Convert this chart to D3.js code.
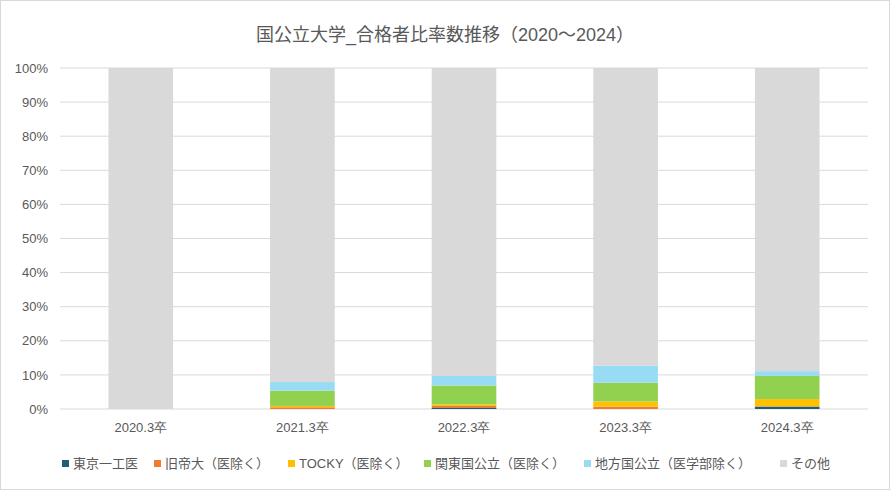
<!DOCTYPE html>
<html><head><meta charset="utf-8">
<script src="https://cdn.jsdelivr.net/npm/d3@7"></script>
<style>body{margin:0;background:#fff;font-family:"Liberation Sans","Noto Sans CJK JP",sans-serif}</style>
</head><body><svg id="chart" width="890" height="490"></svg>
<script>
const categories = ['2020.3卒', '2021.3卒', '2022.3卒', '2023.3卒', '2024.3卒']
const seriesNames = ['東京一工医', '旧帝大（医除く）', 'TOCKY（医除く）', '関東国公立（医除く）', '地方国公立（医学部除く）', 'その他']
const colors = ['#1f5f73', '#ed7d31', '#ffc000', '#92d050', '#97dbf5', '#d9d9d9']
const tokyo = [0, 0, 0.3, 0, 0.7]
const kyutei = [0, 0.5, 0.6, 0.7, 0.1]
const tocky = [0, 0.4, 0.4, 1.5, 2.1]
const kanto = [0, 4.5, 5.6, 5.5, 6.8]
const chiho = [0, 2.5, 2.8, 5.0, 1.4]
const yTicks = [0, 10, 20, 30, 40, 50, 60, 70, 80, 90, 100]

const cols = [tokyo, kyutei, tocky, kanto, chiho]
const rows = categories.map((c, i) => {
  const r = { cat: c }
  let s = 0
  cols.forEach((a, k) => { r[seriesNames[k]] = a[i]; s += a[i] })
  r[seriesNames[5]] = 100 - s
  return r
})
const stack = d3.stack().keys(seriesNames)(rows)

const margin = { top: 68, right: 22, bottom: 81, left: 60 }
const width = 890 - margin.left - margin.right
const height = 490 - margin.top - margin.bottom
const svg = d3.select('#chart')
svg.append('rect').attr('x', 0.5).attr('y', 0.5).attr('width', 889).attr('height', 489).attr('fill', '#fff').attr('stroke', '#d9d9d9')
svg.append('text').attr('x', 445).attr('y', 41).attr('text-anchor', 'middle').attr('font-size', 18).attr('fill', '#595959')
  .text('国公立大学_合格者比率数推移（2020～2024）')

const g = svg.append('g').attr('transform', `translate(${margin.left},${margin.top})`)
const x = d3.scaleBand().domain(categories).range([0, width]).paddingInner(0.6).paddingOuter(0.3)
const y = d3.scaleLinear().domain([0, 100]).range([height, 0])

g.selectAll('.grid').data(yTicks).join('line')
  .attr('x1', 0).attr('x2', width).attr('y1', d => y(d)).attr('y2', d => y(d))
  .attr('stroke', '#d9d9d9')

stack.forEach((s, k) => {
  g.selectAll('.s' + k).data(s).join('rect')
    .attr('x', d => x(d.data.cat)).attr('width', x.bandwidth())
    .attr('y', d => y(d[1])).attr('height', d => y(d[0]) - y(d[1]))
    .attr('fill', colors[k])
})

const yAxis = g.append('g').call(d3.axisLeft(y).tickValues(yTicks).tickFormat(d => d + '%').tickSize(0).tickPadding(12))
yAxis.select('.domain').remove()
yAxis.selectAll('text').attr('font-size', 13).attr('fill', '#595959')
const xAxis = g.append('g').attr('transform', `translate(0,${height})`).call(d3.axisBottom(x).tickSize(0).tickPadding(14))
xAxis.select('.domain').remove()
xAxis.selectAll('text').attr('font-size', 13).attr('fill', '#595959')

const legend = svg.append('g').attr('transform', 'translate(62,464)')
const lx = [0, 92, 226, 362, 522, 718]
seriesNames.forEach((n, k) => {
  const it = legend.append('g').attr('transform', `translate(${lx[k]},0)`)
  it.append('rect').attr('x', 0).attr('y', -4).attr('width', 7).attr('height', 7).attr('fill', colors[k])
  it.append('text').attr('x', 11).attr('y', 4).attr('font-size', 13).attr('fill', '#595959').text(n)
})
</script></body></html>
